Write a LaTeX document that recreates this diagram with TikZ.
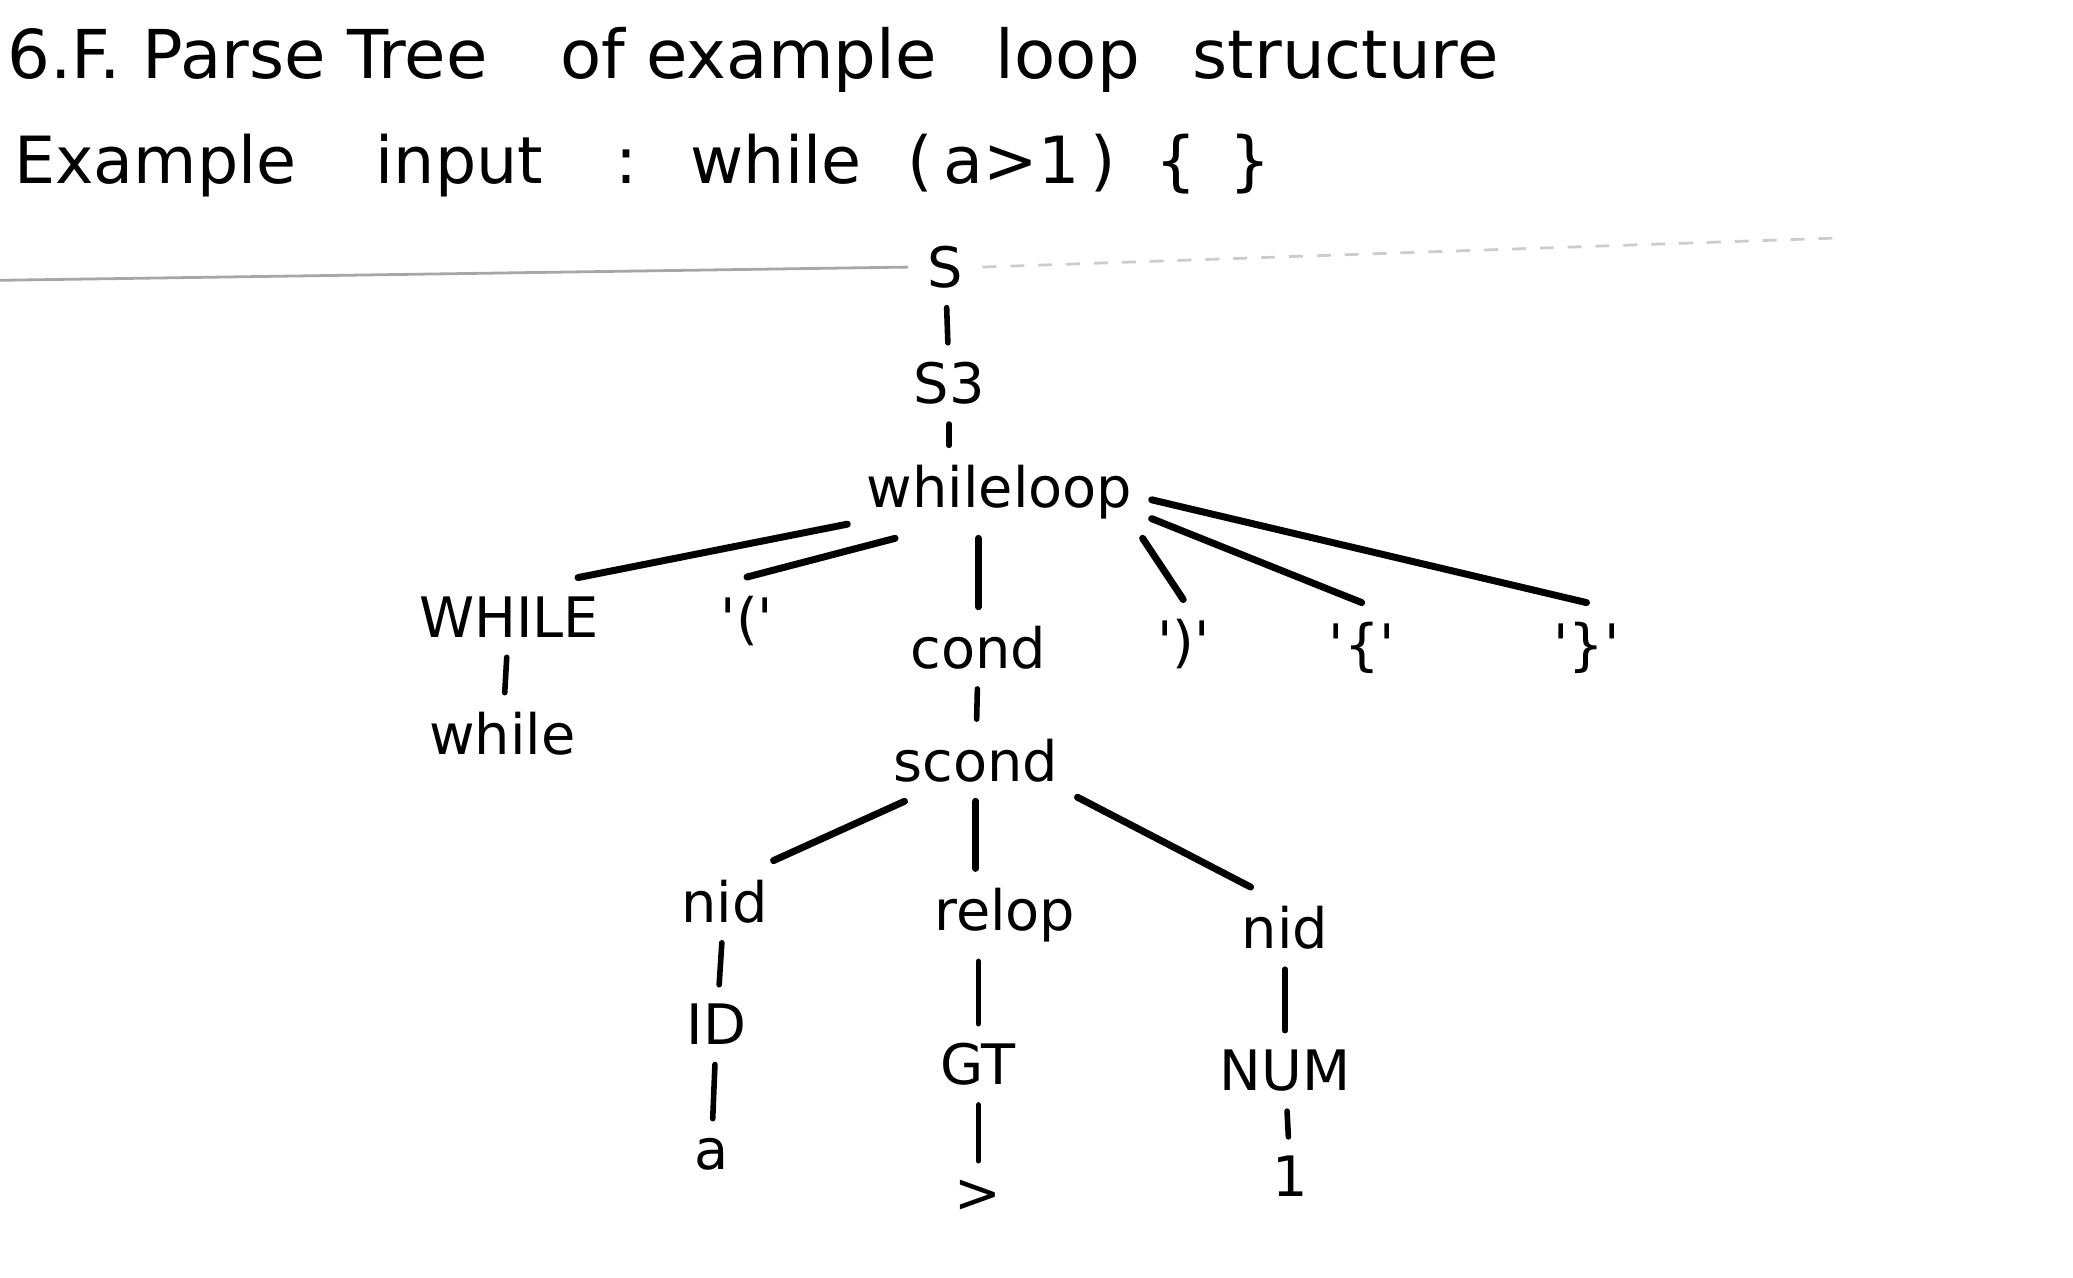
\documentclass[tikz,border=0pt]{standalone}
\usepackage{fontspec}
\setmainfont{DejaVu Sans}
\usepackage{tikz}
\usetikzlibrary{positioning, calc}

\begin{document}
\begin{tikzpicture}[
  tnode/.style={inner sep=4pt, font=\fontsize{12}{14}\selectfont},
  hdr/.style={anchor=west, inner sep=0pt, font=\fontsize{14.5}{17}\selectfont},
  edge/.style={line width=1.2pt, line cap=round},
  fan/.style={line width=1.5pt, line cap=round}
]
  \useasboundingbox (0,0) rectangle (15.68,-9.66);

  \node[hdr] (title) at (0.05,-0.45) {6.F. Parse Tree\hspace{0.55cm}of example\hspace{0.45cm}loop\hspace{0.4cm}structure};
  \node[hdr, font=\fontsize{14}{17}\selectfont] (input) at (0.10,-1.25)
    {Example\hspace{0.6cm}input\hspace{0.55cm}:\hspace{0.4cm}while\hspace{0.35cm}(\,a>1\,)\hspace{0.3cm}\{\hspace{0.25cm}\}};

  \node[tnode] (S) at (7.15,-2.02) {S};
  \node[tnode] (S3) at (7.18,-2.90) {S3};
  \node[tnode] (wl) at (7.56,-3.72) {whileloop};

  \node[tnode] (WHILE) at (3.85,-4.67) {WHILE};
  \node[tnode] (while) at (3.80,-5.55) {while};
  \node[tnode] (lp) at (5.65,-4.70) {\textquotesingle(\textquotesingle};
  \node[tnode] (cond) at (7.40,-4.90) {cond};
  \node[tnode] (rp) at (8.95,-4.87) {\textquotesingle)\textquotesingle};
  \node[tnode] (lb) at (10.30,-4.90) {\textquotesingle\{\textquotesingle};
  \node[tnode] (rb) at (12.00,-4.90) {\textquotesingle\}\textquotesingle};

  \node[tnode] (scond) at (7.38,-5.75) {scond};
  \node[tnode] (nidA) at (5.48,-6.82) {nid};
  \node[tnode] (relop) at (7.60,-6.92) {relop};
  \node[tnode] (nidB) at (9.72,-7.02) {nid};

  \node[tnode] (ID) at (5.42,-7.75) {ID};
  \node[tnode] (GT) at (7.40,-8.05) {GT};
  \node[tnode] (NUM) at (9.72,-8.10) {NUM};
  \node[tnode] (a) at (5.38,-8.73) {a};
  \node[tnode] (gt) at (7.40,-9.05) {>};
  \node[tnode] (one) at (9.76,-8.90) {1};

  % ruled line under the header
  \draw[gray!70, line width=0.6pt] (0,-2.12) -- (S.west);
  \draw[gray!40, line width=0.6pt, dashed] (S.east) -- (13.9,-1.80);

  \draw[edge] (S) -- (S3);
  \draw[edge] (S3.south) -- (S3.south |- wl.north);

  \draw[fan] (wl.192) -- (WHILE.30);
  \draw[fan] (wl.204) -- (lp.north);
  \draw[fan] (wl.south -| cond) -- (cond);
  \draw[fan] (wl.-18) -- (rp.north);
  \draw[fan] (wl.-10) -- (lb.north);
  \draw[fan] (wl.-3) -- (rb.north);

  \draw[edge] (WHILE) -- (while);
  \draw[edge] (cond) -- (scond);

  \draw[fan] (scond.210) -- (nidA.40);
  \draw[fan] (scond.south) -- (scond.south |- relop.north);
  \draw[fan] (scond.-20) -- (nidB.130);

  \draw[edge] (nidA) -- (ID);
  \draw[edge] (ID) -- (a);
  \draw[edge] (relop.south -| GT) -- (GT);
  \draw[edge] (GT) -- (gt);
  \draw[edge] (nidB) -- (NUM);
  \draw[edge] (NUM) -- (one);
\end{tikzpicture}
\end{document}
